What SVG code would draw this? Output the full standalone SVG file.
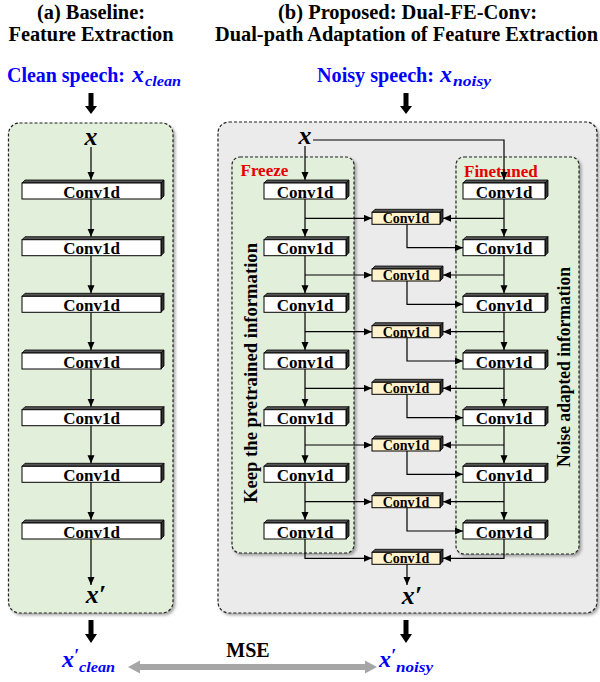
<svg xmlns="http://www.w3.org/2000/svg" xmlns:xlink="http://www.w3.org/1999/xlink" width="600" height="682" viewBox="0 0 600 682">
<style>
.t{font-family:"Liberation Serif","Times New Roman",serif;font-weight:bold;}
.title{font-size:20px;fill:#000;text-anchor:middle;}
.blue{font-size:20px;fill:#0000ff;}
.m{font-family:"Liberation Serif","Times New Roman",serif;font-weight:bold;font-style:italic;}
.red{font-size:17px;fill:#e60000;}
.cv{font-size:17px;text-anchor:middle;fill:#000;}
.cvs{font-size:14px;text-anchor:middle;fill:#000;}
.rot{font-size:18px;text-anchor:middle;fill:#000;}
.panel{stroke:#222;stroke-width:1.2;stroke-dasharray:3 2;}
.ln{fill:none;stroke:#000;stroke-width:1.2;marker-end:url(#ah);}
.face{fill:#fff;stroke:#000;stroke-width:1;}
.facey{fill:#fff2cc;stroke:#000;stroke-width:1;}
.top{fill:#555;stroke:#000;stroke-width:0.8;}
.side{fill:#333;stroke:#000;stroke-width:0.8;}
</style>
<defs>
<marker id="ah" markerUnits="userSpaceOnUse" markerWidth="9" markerHeight="8" refX="8" refY="3.5" orient="auto">
<path d="M0,0 L8,3.5 L0,7 z" fill="#000"/>
</marker>
<filter id="sh" x="-5%" y="-5%" width="112%" height="112%">
<feDropShadow dx="2" dy="2" stdDeviation="1.5" flood-color="#000" flood-opacity="0.35"/>
</filter>
<g id="boxA">
<polygon class="top" points="0,3 3,0 142,0 139,3"/>
<polygon class="side" points="139,3 142,0 142,16 139,19"/>
<rect class="face" x="0" y="3" width="139" height="16"/>
</g>
<g id="boxB">
<polygon class="top" points="0,3 3,0 85,0 82,3"/>
<polygon class="side" points="82,3 85,0 85,16 82,19"/>
<rect class="face" x="0" y="3" width="82" height="16"/>
</g>
<g id="boxM">
<polygon class="top" points="0,3 3,0 71,0 68,3"/>
<polygon class="side" points="68,3 71,0 71,12 68,15"/>
<rect class="facey" x="0" y="3" width="68" height="12"/>
</g>
</defs>

<!-- titles -->
<g id="titleA">
<text class="t title" x="91" y="19" textLength="108" lengthAdjust="spacingAndGlyphs">(a) Baseline:</text>
<text class="t title" x="91" y="41" textLength="165" lengthAdjust="spacingAndGlyphs">Feature Extraction</text>
</g>
<g id="titleB">
<text class="t title" x="407.5" y="19" textLength="259" lengthAdjust="spacingAndGlyphs">(b) Proposed: Dual-FE-Conv:</text>
<text class="t title" x="406.5" y="41" textLength="383" lengthAdjust="spacingAndGlyphs">Dual-path Adaptation of Feature Extraction</text>
</g>

<!-- inputs -->
<g id="inClean">
<text class="t blue" x="7" y="82" textLength="118" lengthAdjust="spacingAndGlyphs">Clean speech:</text>
<text class="m" x="132" y="82" font-size="24" fill="#0000ff">x<tspan dx="1" dy="4" font-size="14" textLength="36" lengthAdjust="spacingAndGlyphs">clean</tspan></text>
</g>
<g id="inNoisy">
<text class="t blue" x="317" y="82" textLength="117" lengthAdjust="spacingAndGlyphs">Noisy speech:</text>
<text class="m" x="440" y="82" font-size="24" fill="#0000ff">x<tspan dx="1" dy="4" font-size="14" textLength="38" lengthAdjust="spacingAndGlyphs">noisy</tspan></text>
</g>

<!-- thick arrows -->
<g id="thickArrows" fill="#000">
<rect x="88.5" y="93" width="5" height="14"/><polygon points="85,106 97,106 91,114"/>
<rect x="403.5" y="93" width="5" height="14"/><polygon points="400,106 412,106 406,114"/>
<rect x="88.5" y="620" width="5" height="15"/><polygon points="85,634 97,634 91,643"/>
<rect x="403.5" y="620" width="5" height="15"/><polygon points="400,634 412,634 406,643"/>
</g>

<!-- panels -->
<g id="panelA">
<rect class="panel" x="8.5" y="123" width="164.5" height="490" rx="11" fill="#e2efda" filter="url(#sh)"/>
</g>
<g id="panelB">
<rect class="panel" x="218" y="122" width="379" height="491" rx="11" fill="#ebebeb" filter="url(#sh)"/>
</g>
<g id="freeze">
<rect class="panel" x="232" y="157" width="122" height="396" rx="8" fill="#e2efda" filter="url(#sh)"/>
<text class="t red" x="240.5" y="176">Freeze</text>
<text class="t rot" transform="translate(257,373) rotate(-90)" textLength="260" lengthAdjust="spacingAndGlyphs">Keep the pretrained information</text>
</g>
<g id="finetuned">
<rect class="panel" x="456" y="157" width="123" height="397" rx="8" fill="#e2efda" filter="url(#sh)"/>
<text class="t red" x="464" y="176.5">Finetuned</text>
<text class="t rot" transform="translate(570,367) rotate(-90)" textLength="200" lengthAdjust="spacingAndGlyphs">Noise adapted information</text>
</g>

<!-- connectors -->
<g id="connectors">
<path class="ln" d="M91,147 V180"/>
<path class="ln" d="M91,199 V236.7"/>
<path class="ln" d="M91,255.7 V293.3"/>
<path class="ln" d="M91,312.3 V350"/>
<path class="ln" d="M91,369 V406.7"/>
<path class="ln" d="M91,425.7 V463.3"/>
<path class="ln" d="M91,482.3 V520"/>
<path class="ln" d="M91,539 V585"/>

<path class="ln" d="M305,146 V180"/>
<path class="ln" d="M313,140 H504 V180"/>

<path class="ln" d="M305,199 V236.7"/>
<path class="ln" d="M305,255.7 V293.3"/>
<path class="ln" d="M305,312.3 V350"/>
<path class="ln" d="M305,369 V406.7"/>
<path class="ln" d="M305,425.7 V463.3"/>
<path class="ln" d="M305,482.3 V520"/>

<path class="ln" d="M504,199 V236.7"/>
<path class="ln" d="M504,255.7 V293.3"/>
<path class="ln" d="M504,312.3 V350"/>
<path class="ln" d="M504,369 V406.7"/>
<path class="ln" d="M504,425.7 V463.3"/>
<path class="ln" d="M504,482.3 V520"/>

<path class="ln" d="M305,218.3 H372"/>
<path class="ln" d="M305,275 H372"/>
<path class="ln" d="M305,331.7 H372"/>
<path class="ln" d="M305,388.3 H372"/>
<path class="ln" d="M305,445 H372"/>
<path class="ln" d="M305,501.7 H372"/>
<path class="ln" d="M305,539 V558.3 H372"/>

<path class="ln" d="M504,218.3 H443"/>
<path class="ln" d="M504,275 H443"/>
<path class="ln" d="M504,331.7 H443"/>
<path class="ln" d="M504,388.3 H443"/>
<path class="ln" d="M504,445 H443"/>
<path class="ln" d="M504,501.7 H443"/>
<path class="ln" d="M504,539 V558.3 H443"/>

<path class="ln" d="M407,224.3 V247.7 H463"/>
<path class="ln" d="M407,281 V304.3 H463"/>
<path class="ln" d="M407,337.7 V361 H463"/>
<path class="ln" d="M407,394.3 V417.7 H463"/>
<path class="ln" d="M407,451 V474.3 H463"/>
<path class="ln" d="M407,507.7 V531 H463"/>
<path class="ln" d="M407,564.3 V585"/>

<polygon id="mseArrow" points="128,667 140,660.5 140,664 365,664 365,660.5 377,667 365,673.5 365,670 140,670 140,673.5" fill="#a6a6a6"/>
</g>

<!-- x labels -->
<g id="xA"><text class="m" x="91" y="145" font-size="26" text-anchor="middle">x</text></g>
<g id="xB"><text class="m" x="305" y="144" font-size="26" text-anchor="middle">x</text></g>
<g id="xpA"><text class="m" x="96" y="603" font-size="26" text-anchor="middle">x′</text></g>
<g id="xpB"><text class="m" x="412" y="604" font-size="26" text-anchor="middle">x′</text></g>

<!-- baseline column -->
<g id="a1" transform="translate(22,180)"><use xlink:href="#boxA"/><text class="t cv" x="69.5" y="17.5">Conv1d</text></g>
<g id="a2" transform="translate(22,236.7)"><use xlink:href="#boxA"/><text class="t cv" x="69.5" y="17.5">Conv1d</text></g>
<g id="a3" transform="translate(22,293.3)"><use xlink:href="#boxA"/><text class="t cv" x="69.5" y="17.5">Conv1d</text></g>
<g id="a4" transform="translate(22,350)"><use xlink:href="#boxA"/><text class="t cv" x="69.5" y="17.5">Conv1d</text></g>
<g id="a5" transform="translate(22,406.7)"><use xlink:href="#boxA"/><text class="t cv" x="69.5" y="17.5">Conv1d</text></g>
<g id="a6" transform="translate(22,463.3)"><use xlink:href="#boxA"/><text class="t cv" x="69.5" y="17.5">Conv1d</text></g>
<g id="a7" transform="translate(22,520)"><use xlink:href="#boxA"/><text class="t cv" x="69.5" y="17.5">Conv1d</text></g>

<!-- frozen column -->
<g id="f1" transform="translate(264,180)"><use xlink:href="#boxB"/><text class="t cv" x="41" y="17.5">Conv1d</text></g>
<g id="f2" transform="translate(264,236.7)"><use xlink:href="#boxB"/><text class="t cv" x="41" y="17.5">Conv1d</text></g>
<g id="f3" transform="translate(264,293.3)"><use xlink:href="#boxB"/><text class="t cv" x="41" y="17.5">Conv1d</text></g>
<g id="f4" transform="translate(264,350)"><use xlink:href="#boxB"/><text class="t cv" x="41" y="17.5">Conv1d</text></g>
<g id="f5" transform="translate(264,406.7)"><use xlink:href="#boxB"/><text class="t cv" x="41" y="17.5">Conv1d</text></g>
<g id="f6" transform="translate(264,463.3)"><use xlink:href="#boxB"/><text class="t cv" x="41" y="17.5">Conv1d</text></g>
<g id="f7" transform="translate(264,520)"><use xlink:href="#boxB"/><text class="t cv" x="41" y="17.5">Conv1d</text></g>

<!-- finetuned column -->
<g id="n1" transform="translate(463,180)"><use xlink:href="#boxB"/><text class="t cv" x="41" y="17.5">Conv1d</text></g>
<g id="n2" transform="translate(463,236.7)"><use xlink:href="#boxB"/><text class="t cv" x="41" y="17.5">Conv1d</text></g>
<g id="n3" transform="translate(463,293.3)"><use xlink:href="#boxB"/><text class="t cv" x="41" y="17.5">Conv1d</text></g>
<g id="n4" transform="translate(463,350)"><use xlink:href="#boxB"/><text class="t cv" x="41" y="17.5">Conv1d</text></g>
<g id="n5" transform="translate(463,406.7)"><use xlink:href="#boxB"/><text class="t cv" x="41" y="17.5">Conv1d</text></g>
<g id="n6" transform="translate(463,463.3)"><use xlink:href="#boxB"/><text class="t cv" x="41" y="17.5">Conv1d</text></g>
<g id="n7" transform="translate(463,520)"><use xlink:href="#boxB"/><text class="t cv" x="41" y="17.5">Conv1d</text></g>

<!-- middle fusion convs -->
<g id="m1" transform="translate(372,209.3)"><use xlink:href="#boxM"/><text class="t cvs" x="34" y="14">Conv1d</text></g>
<g id="m2" transform="translate(372,266)"><use xlink:href="#boxM"/><text class="t cvs" x="34" y="14">Conv1d</text></g>
<g id="m3" transform="translate(372,322.7)"><use xlink:href="#boxM"/><text class="t cvs" x="34" y="14">Conv1d</text></g>
<g id="m4" transform="translate(372,379.3)"><use xlink:href="#boxM"/><text class="t cvs" x="34" y="14">Conv1d</text></g>
<g id="m5" transform="translate(372,436)"><use xlink:href="#boxM"/><text class="t cvs" x="34" y="14">Conv1d</text></g>
<g id="m6" transform="translate(372,492.7)"><use xlink:href="#boxM"/><text class="t cvs" x="34" y="14">Conv1d</text></g>
<g id="m7" transform="translate(372,549.3)"><use xlink:href="#boxM"/><text class="t cvs" x="34" y="14">Conv1d</text></g>

<!-- outputs -->
<g id="mseLabel"><text class="t" x="248" y="657" font-size="20" text-anchor="middle">MSE</text></g>
<g id="outClean">
<text class="m" x="62" y="667" font-size="24" fill="#0000ff">x<tspan dy="-5" font-size="18">′</tspan><tspan dy="10" font-size="14" textLength="36" lengthAdjust="spacingAndGlyphs">clean</tspan></text>
</g>
<g id="outNoisy">
<text class="m" x="379" y="667" font-size="24" fill="#0000ff">x<tspan dy="-5" font-size="18">′</tspan><tspan dy="10" font-size="14" textLength="37" lengthAdjust="spacingAndGlyphs">noisy</tspan></text>
</g>
</svg>
